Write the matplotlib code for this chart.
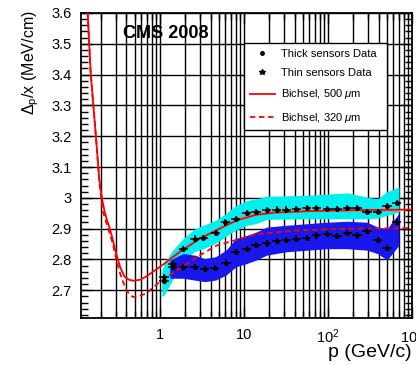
#!/usr/bin/env python3

import matplotlib.pyplot as plt
import matplotlib.ticker as mticker
from matplotlib.lines import Line2D
import numpy as np

plt.rcParams["font.family"] = ["Liberation Sans", "DejaVu Sans"]
plt.rcParams["mathtext.fontset"] = "custom"
plt.rcParams["mathtext.rm"] = "Liberation Sans"
plt.rcParams["mathtext.it"] = "Liberation Sans:italic"

# thick sensors data
thick_p = [1.12, 1.42, 1.89, 2.6, 3.3, 4.6, 6.0, 8.0, 10.8, 13.9, 18.6, 24.5,
           32, 42, 56, 73, 98, 128, 169, 222, 292, 390, 505, 656]
thick_v = [2.729, 2.785, 2.835, 2.868, 2.870, 2.887, 2.920, 2.930, 2.950, 2.954,
           2.959, 2.962, 2.962, 2.965, 2.967, 2.967, 2.965, 2.965, 2.968, 2.968,
           2.954, 2.954, 2.973, 2.983]

# thin sensors data
thin_p = [1.12, 1.42, 1.89, 2.6, 3.4, 4.5, 6.1, 8.0, 10.8, 13.9, 18.6, 24.5,
          32, 42, 56, 73, 98, 128, 169, 222, 292, 390, 505, 656]
thin_v = [2.744, 2.776, 2.776, 2.776, 2.769, 2.773, 2.790, 2.825, 2.833, 2.846,
          2.852, 2.860, 2.864, 2.868, 2.871, 2.878, 2.882, 2.875, 2.887, 2.878,
          2.892, 2.862, 2.838, 2.921]

# systematic bands
cyan_p = [1.05, 1.12, 1.42, 1.89, 2.6, 3.3, 4.6, 6.0, 8.0, 10.8, 13.9, 18.6,
          56, 169, 292, 390, 505, 700]
cyan_lo = [2.68, 2.684, 2.735, 2.798, 2.826, 2.835, 2.852, 2.874, 2.895, 2.911,
           2.916, 2.93, 2.932, 2.932, 2.932, 2.934, 2.943, 2.954]
cyan_hi = [2.76, 2.787, 2.83, 2.868, 2.90, 2.911, 2.927, 2.948, 2.975, 2.991,
           2.997, 3.005, 3.008, 3.016, 3.002, 2.997, 3.02, 3.035]

blue_p = [1.31, 1.89, 2.6, 3.4, 4.6, 6.1, 8.0, 10.8, 14, 18.6, 32, 56, 98,
          169, 292, 390, 505, 700]
blue_lo = [2.739, 2.739, 2.733, 2.728, 2.733, 2.749, 2.776, 2.787, 2.798, 2.814,
           2.825, 2.83, 2.835, 2.835, 2.83, 2.819, 2.798, 2.846]
blue_hi = [2.798, 2.819, 2.814, 2.803, 2.809, 2.83, 2.868, 2.878, 2.889, 2.905,
           2.911, 2.916, 2.921, 2.924, 2.921, 2.905, 2.90, 2.95]

# fit line on thick data
gray_p = [9, 20, 60, 200, 700]
gray_v = [2.938, 2.952, 2.957, 2.958, 2.958]

# Bichsel predictions
b500_p = [0.138, 0.15, 0.173, 0.19, 0.205, 0.22, 0.236, 0.254, 0.28, 0.305,
          0.34, 0.38, 0.43, 0.48, 0.58, 0.69, 1.0, 1.73, 3.0, 4.7, 8.2, 14, 23,
          60, 200, 1000]
b500_v = [3.6, 3.405, 3.2, 3.06, 2.995, 2.955, 2.925, 2.9, 2.855, 2.814, 2.772,
          2.744, 2.734, 2.731, 2.734, 2.745, 2.776, 2.825, 2.868, 2.895, 2.927,
          2.945, 2.952, 2.957, 2.96, 2.962]
b320_p = [0.138, 0.15, 0.173, 0.19, 0.21, 0.242, 0.278, 0.31, 0.35, 0.40,
          0.44, 0.48, 0.55, 0.69, 1.0, 1.73, 3.0, 4.7, 14, 46, 200, 1000]
b320_v = [3.6, 3.405, 3.2, 3.05, 2.955, 2.9, 2.846, 2.787, 2.739, 2.70, 2.685,
          2.678, 2.68, 2.69, 2.728, 2.771, 2.814, 2.845, 2.882, 2.895, 2.90, 2.902]

W, H = 416, 365
fig = plt.figure(figsize=(W / 100, H / 100), dpi=100)
ax = fig.add_axes([81 / W, 1 - 318 / H, (412 - 81) / W, (318 - 13) / H])

ax.fill_between(cyan_p, cyan_lo, cyan_hi, color="#00f0f0", lw=0, zorder=2)
ax.fill_between(blue_p, blue_lo, blue_hi, color="#1818ee", lw=0, zorder=2)
ax.plot(gray_p, gray_v, color="#a0a0a0", lw=1.5, zorder=3)
ax.plot(b500_p, b500_v, color="red", lw=1.3, zorder=4)
ax.plot(b320_p, b320_v, color="red", lw=1.3, ls=(0, (3, 2)), zorder=4)

# bin half-width in log10(p)
hw = 0.055
for p, v, m, ms in [(thick_p, thick_v, "o", 2.5), (thin_p, thin_v, "*", 3.5)]:
    p = np.array(p)
    xerr = [p - p / 10**hw, p * 10**hw - p]
    ax.errorbar(p, v, xerr=xerr, yerr=0.01, fmt=m, ms=ms, color="black",
                elinewidth=1.1, capsize=0, zorder=5)

ax.set_xscale("log")
ax.set_xlim(0.115, 1000)
ax.set_ylim(2.61, 3.6)

ax.xaxis.set_major_locator(mticker.FixedLocator([1, 10, 100, 1000]))
ax.xaxis.set_major_formatter(mticker.FixedFormatter(["1", "10", r"$10^2$", r"$10^3$"]))
ax.xaxis.set_minor_locator(mticker.LogLocator(base=10, subs=np.arange(2, 10), numticks=20))
ax.xaxis.set_minor_formatter(mticker.NullFormatter())
ax.yaxis.set_major_locator(mticker.MultipleLocator(0.1))
ax.yaxis.set_minor_locator(mticker.MultipleLocator(0.02))
ax.yaxis.set_major_formatter(mticker.FuncFormatter(lambda v, _: f"{v:g}"))

ax.tick_params(which="both", direction="in", top=True, right=True, width=1, colors="black")
ax.tick_params(which="major", length=8, labelsize=10.5, pad=7)
ax.tick_params(which="minor", length=5)
ax.tick_params(axis="x", which="major", pad=7)

ax.grid(which="major", color="black", lw=1)
ax.grid(which="minor", axis="x", color="black", lw=1)
ax.set_axisbelow(True)
for s in ax.spines.values():
    s.set_linewidth(1.3)

fig.text(31 / W, 1 - 10 / H, r"$\mathrm{\Delta_p}$/x (MeV/cm)", rotation=90,
         ha="center", va="top", fontsize=11.5)
fig.text(412 / W, 1 - 357 / H, "p (GeV/c)", ha="right", va="baseline", fontsize=14)
fig.text(123 / W, 1 - 33 / H, "CMS 2008", ha="left", va="center",
         fontsize=13, fontweight="bold")

handles = [
    Line2D([], [], marker="o", ls="none", color="black", ms=2.5),
    Line2D([], [], marker="*", ls="none", color="black", ms=4),
    Line2D([], [], color="red", lw=1.3),
    Line2D([], [], color="red", lw=1.3, ls=(0, (3, 2))),
]
labels = ["Thick sensors Data", "Thin sensors Data",
          r"Bichsel, 500 $\mu$m", r"Bichsel, 320 $\mu$m"]
leg = ax.legend(
    handles,
    labels,
    loc="upper left",
    mode="expand",
    bbox_to_anchor=(244 / W, 1 - 124 / H, 143 / W, 81 / H),
    bbox_transform=fig.transFigure,
    borderaxespad=0,
    fontsize=8,
    labelspacing=0.85,
    handlelength=2.3,
    handletextpad=0.5,
    borderpad=0.5,
    fancybox=False,
    framealpha=1,
    edgecolor="black",
)
leg.get_frame().set_linewidth(1)
leg.set_zorder(10)

plt.savefig("out.png", dpi=100)
